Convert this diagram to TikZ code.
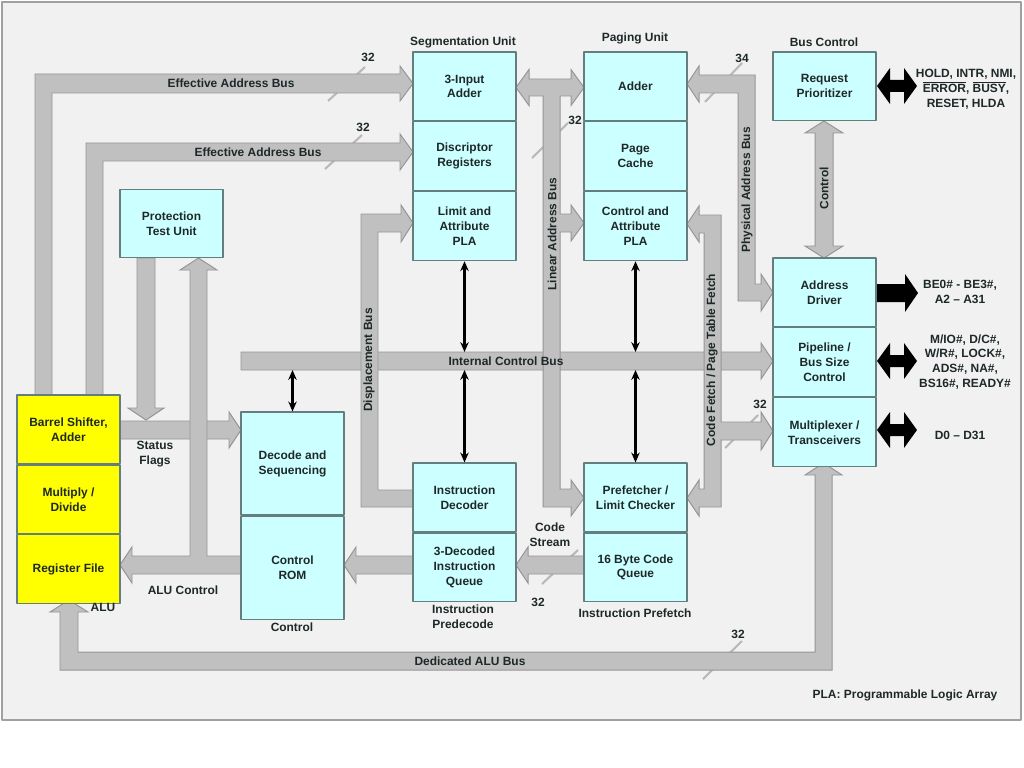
\documentclass[tikz,border=0pt]{standalone}
\usepackage{fontspec}
\setmainfont{Liberation Sans}
\usetikzlibrary{positioning,arrows.meta}
\definecolor{framebg}{RGB}{241,241,241}
\definecolor{frameline}{RGB}{160,160,160}
\definecolor{busgray}{RGB}{192,192,192}
\definecolor{busline}{RGB}{150,150,150}
\definecolor{slashgray}{RGB}{185,185,185}
\definecolor{cellcyan}{RGB}{204,255,255}
\definecolor{cellline}{RGB}{100,125,125}
\definecolor{aluyellow}{RGB}{255,255,0}
\definecolor{txt}{RGB}{30,40,40}
\newcommand{\lblfont}{\fontsize{8.5}{10.6}\selectfont\bfseries}
\begin{document}
\begin{tikzpicture}[x=0.025cm,y=-0.025cm,font=\lblfont, line join=round, >={Stealth[length=7pt,width=6pt]},
	cell/.style={draw=cellline, fill=cellcyan, text=txt, align=center, minimum width=2.575cm, minimum height=1.72cm, inner sep=1pt, line width=0.8pt},
	alucell/.style={cell, fill=aluyellow},
	bigcell/.style={cell, minimum height=2.575cm},
	bus/.style={draw=busline, fill=busgray, line width=0.7pt, line join=miter},
	pin/.style={fill=black},
	ctl/.style={<->, line width=1.5pt},
	buslbl/.style={text=txt, inner sep=0pt},
	slash/.style={draw=slashgray, line width=1.5pt},
	note/.style={text=txt, align=center, inner sep=0pt}]
	\useasboundingbox (0,0) rectangle (1024,768);
	\draw[draw=frameline, fill=framebg, line width=0.8pt] (2,2) rectangle (1021,720);
	% bus width marks
	\draw[slash] (328,101) -- (365,67);
	\draw[slash] (325,169) -- (362,135);
	\draw[slash] (532,158) -- (568,123);
	\draw[slash] (705,102) -- (742,63);
	\draw[slash] (725,448) -- (758,415);
	\draw[slash] (542,584) -- (578,550);
	\draw[slash] (703,679) -- (742,641);
	\node[note] (w1) at (368,57) {32};
	\node[note] (w2) at (363,127) {32};
	\node[note] (w3) at (575,120) {32};
	\node[note] (w4) at (742,58) {34};
	\node[note] (w5) at (760,404) {32};
	\node[note] (w6) at (538,602) {32};
	\node[note] (w7) at (738,634) {32};
	% buses
	\draw[bus] (241,352) -- (761,352) -- (761,343) -- (773,361) -- (761,379) -- (761,370) -- (241,370) -- cycle;
	\draw[bus] (120,421) -- (229,421) -- (229,412) -- (241,430) -- (229,448) -- (229,439) -- (120,439) -- cycle;
	\draw[bus] (35,395) -- (35,74) -- (400,74) -- (400,66) -- (413,83.5) -- (400,101) -- (400,93) -- (52,93) -- (52,395) -- cycle;
	\draw[bus] (86,395) -- (86,143) -- (400,143) -- (400,134) -- (413,152) -- (400,170) -- (400,161) -- (103,161) -- (103,395) -- cycle;
	\draw[bus] (137,258) -- (137,408) -- (128,408) -- (146,420) -- (164,408) -- (155,408) -- (155,258) -- cycle;
	\draw[bus] (241,556) -- (207,556) -- (207,270) -- (217,270) -- (198.5,258) -- (180,270) -- (190,270) -- (190,556) -- (132,556) -- (132,547) -- (120,565) -- (132,583) -- (132,574) -- (241,574) -- cycle;
	\draw[bus] (413,556) -- (356,556) -- (356,547) -- (344,565) -- (356,583) -- (356,574) -- (413,574) -- cycle;
	\draw[bus] (584,556) -- (528,556) -- (528,547) -- (516,565) -- (528,583) -- (528,574) -- (584,574) -- cycle;
	\draw[bus] (413,490) -- (378,490) -- (378,232) -- (401,232) -- (401,242) -- (413,223) -- (401,205) -- (401,214) -- (361,214) -- (361,507) -- (413,507) -- cycle;
	\draw[bus] (516,87.5) -- (529,69.5) -- (529,79) -- (571,79) -- (571,69.5) -- (584,87.5) -- (571,105.5) -- (571,96) -- (560,96) -- (560,214) -- (571,214) -- (571,205) -- (584,223) -- (571,241) -- (571,232) -- (560,232) -- (560,489) -- (571,489) -- (571,480) -- (584,498) -- (571,516) -- (571,507) -- (543,507) -- (543,96) -- (529,96) -- (529,105.5) -- cycle;
	\draw[bus] (687,84) -- (699,66) -- (699,75) -- (755,75) -- (755,284) -- (761,284) -- (761,274) -- (773,292.5) -- (761,311) -- (761,301) -- (738,301) -- (738,93) -- (699,93) -- (699,102) -- cycle;
	\draw[bus] (687,224) -- (699,206) -- (699,215) -- (721,215) -- (721,422) -- (761,422) -- (761,412) -- (773,431) -- (761,450) -- (761,440) -- (721,440) -- (721,507) -- (699,507) -- (699,516) -- (687,498) -- (699,480) -- (699,489) -- (704,489) -- (704,233) -- (699,233) -- (699,242) -- cycle;
	\draw[bus] (60,670) -- (60,612) -- (50,612) -- (69,600) -- (88,612) -- (78,612) -- (78,652) -- (815,652) -- (815,475) -- (805,475) -- (823.5,463) -- (842,475) -- (832,475) -- (832,670) -- cycle;
	\draw[bus] (824,121) -- (843,133) -- (833,133) -- (833,246) -- (843,246) -- (824,258) -- (805,246) -- (815,246) -- (815,133) -- (805,133) -- cycle;
	% external pins
	\foreach \y in {86,361,430}{
		\fill[pin] (877,\y) -- (890,\y-18) -- (890,\y-6) -- (904,\y-6) -- (904,\y-18) -- (917,\y) -- (904,\y+18) -- (904,\y+6) -- (890,\y+6) -- (890,\y+18) -- cycle;}
	\fill[pin] (876,284) -- (905,284) -- (905,274) -- (918,293) -- (905,312) -- (905,302) -- (876,302) -- cycle;
	% units
	\node[cell] (seg1) at (464.5,86.4) {3-Input\\Adder};
	\node[cell, below=0pt of seg1] (seg2) {Discriptor\\Registers};
	\node[cell, below=0pt of seg2] (seg3) {Limit and\\Attribute\\PLA};
	\node[cell] (pag1) at (635.5,86.4) {Adder};
	\node[cell, below=0pt of pag1] (pag2) {Page\\Cache};
	\node[cell, below=0pt of pag2] (pag3) {Control and\\Attribute\\PLA};
	\node[cell] (req) at (824.5,86.4) {Request\\Prioritizer};
	\node[cell] (ptu) at (171.5,223.5) {Protection\\Test Unit};
	\node[cell] (adr) at (824.5,292.4) {Address\\Driver};
	\node[cell, below=0pt of adr] (pipe) {Pipeline /\\Bus Size\\Control};
	\node[cell, below=0pt of pipe] (mux) {Multiplexer /\\Transceivers};
	\node[alucell] (alu1) at (68.5,429.4) {Barrel Shifter,\\Adder};
	\node[alucell, below=0pt of alu1] (alu2) {Multiply /\\Divide};
	\node[alucell, below=0pt of alu2] (alu3) {Register File};
	\node[bigcell] (dec) at (292.5,463.5) {Decode and\\Sequencing};
	\node[bigcell, below=0pt of dec] (rom) {Control\\ROM};
	\node[cell] (idec) at (464.5,497.4) {Instruction\\Decoder};
	\node[cell, below=0pt of idec] (iq) {3-Decoded\\Instruction\\Queue};
	\node[cell] (pf) at (635.5,497.4) {Prefetcher /\\Limit Checker};
	\node[cell, below=0pt of pf] (cq) {16 Byte Code\\Queue};
	% unit names
	\node[note] (segname) at (463,42) {Segmentation Unit};
	\node[note] (pagname) at (635,38) {Paging Unit};
	\node[note] (busname) at (824,42) {Bus Control};
	\node[note] (aluname) at (103,607) {ALU};
	\node[note] (ctlname) at (292,627) {Control};
	\node[note] (predname) at (463,617) {Instruction\\Predecode};
	\node[note] (prefname) at (635,613) {Instruction Prefetch};
	\node[note] (planame) at (905,695) {PLA: Programmable Logic Array};
	\node[note] (flags) at (155,454) {Status\\Flags};
	\node[note] (aluctl) at (183,590) {ALU Control};
	\node[note] (stream) at (550,535) {Code\\Stream};
	% bus names
	\node[buslbl] (eab1) at (231,83) {Effective Address Bus};
	\node[buslbl] (eab2) at (258,152) {Effective Address Bus};
	\node[buslbl, rotate=90] (disp) at (369,360) {Displacement Bus};
	\node[buslbl, rotate=90] (lin) at (552,234) {Linear Address Bus};
	\node[buslbl, rotate=90] (phys) at (747,190) {Physical Address Bus};
	\node[buslbl, rotate=90] (cfetch) at (712,360) {Code Fetch / Page Table Fetch};
	\node[buslbl] (icb) at (506,361) {Internal Control Bus};
	\node[buslbl, rotate=90] (ctlbus) at (824,188) {Control};
	\node[buslbl] (dalu) at (470,661) {Dedicated ALU Bus};
	% pin names
	\node[note] (intsig) at (966,89) {HOLD, INTR, NMI,\\$\overline{\mbox{ERROR}}$, $\overline{\mbox{BUSY}}$,\\RESET, HLDA};
	\node[note] (addrsig) at (960,292) {BE0\# - BE3\#,\\A2 – A31};
	\node[note] (ctlsig) at (965,362) {M/IO\#, D/C\#,\\W/R\#, LOCK\#,\\ADS\#, NA\#,\\BS16\#, READY\#};
	\node[note] (datasig) at (960,435) {D0 – D31};
	% links to the internal control bus
	\coordinate (icbtop) at (0,352);
	\coordinate (icbbot) at (0,370);
	\draw[ctl] (seg3.south) -- (seg3.south |- icbtop);
	\draw[ctl] (pag3.south) -- (pag3.south |- icbtop);
	\draw[ctl] (idec.north) -- (idec.north |- icbbot);
	\draw[ctl] (pf.north) -- (pf.north |- icbbot);
	\draw[ctl] (dec.north) -- (dec.north |- icbbot);
\end{tikzpicture}
\end{document}
